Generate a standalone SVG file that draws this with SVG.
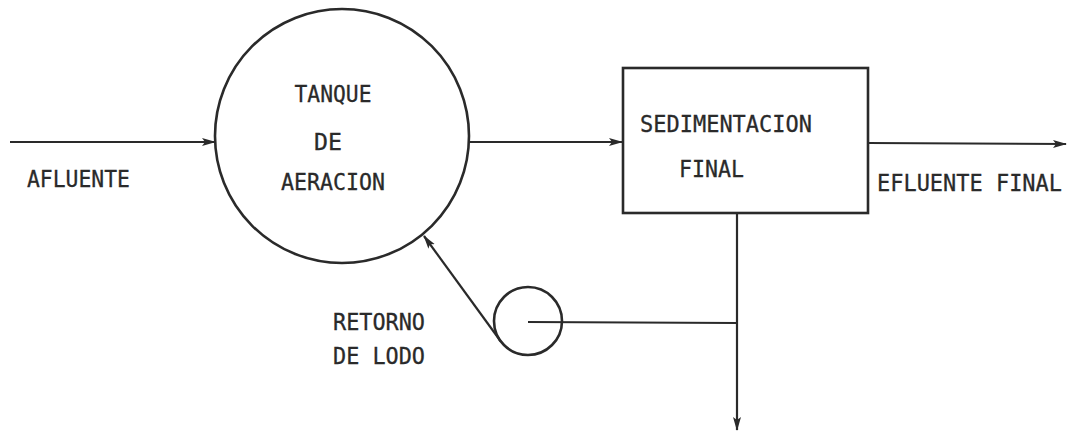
<svg xmlns="http://www.w3.org/2000/svg" width="1070" height="437" viewBox="0 0 1070 437">
<defs>
<style>
.ln{stroke:#2a2a2a;stroke-width:2.2;fill:none}
.sh{stroke:#2a2a2a;stroke-width:2.6;fill:none}
.tx{font-family:"DejaVu Sans Mono","Liberation Mono",monospace;font-size:23px;fill:#2a2a2a;stroke:#2a2a2a;stroke-width:0.3}
</style>
<marker id="ah" viewBox="0 0 14 10" refX="13" refY="5" markerWidth="14" markerHeight="10" markerUnits="userSpaceOnUse" orient="auto">
<path d="M0,1 L14,5 L0,9 L3,5 Z" fill="#2a2a2a"/>
</marker>
</defs>
<rect width="1070" height="437" fill="#fff"/>
<g id="tanque">
<circle class="sh" cx="342" cy="136" r="127"/>
<text class="tx" x="333" y="102" text-anchor="middle" textLength="77" lengthAdjust="spacingAndGlyphs">TANQUE</text>
<text class="tx" x="328" y="150" text-anchor="middle" textLength="28" lengthAdjust="spacingAndGlyphs">DE</text>
<text class="tx" x="333" y="190" text-anchor="middle" textLength="104" lengthAdjust="spacingAndGlyphs">AERACION</text>
</g>
<g id="sedimentacion">
<rect class="sh" x="623" y="68" width="245" height="145"/>
<text class="tx" x="640" y="132" textLength="172" lengthAdjust="spacingAndGlyphs">SEDIMENTACION</text>
<text class="tx" x="679" y="177" textLength="65" lengthAdjust="spacingAndGlyphs">FINAL</text>
</g>
<g id="bomba">
<circle class="sh" cx="528" cy="321" r="34"/>
</g>
<g id="labels">
<text class="tx" x="27" y="187" textLength="103" lengthAdjust="spacingAndGlyphs">AFLUENTE</text>
<text class="tx" x="877" y="191" textLength="185" lengthAdjust="spacingAndGlyphs">EFLUENTE FINAL</text>
<text class="tx" x="333" y="330" textLength="92" lengthAdjust="spacingAndGlyphs">RETORNO</text>
<text class="tx" x="333" y="364" textLength="92" lengthAdjust="spacingAndGlyphs">DE LODO</text>
</g>
<g id="connectors">
<line class="ln" x1="10" y1="142" x2="215" y2="142" marker-end="url(#ah)"/>
<line class="ln" x1="469" y1="142" x2="622" y2="142" marker-end="url(#ah)"/>
<line class="ln" x1="868" y1="143" x2="1066" y2="144" marker-end="url(#ah)"/>
<line class="ln" x1="737" y1="213" x2="737" y2="430" marker-end="url(#ah)"/>
<line class="ln" x1="528" y1="322" x2="737" y2="323"/>
<line class="ln" x1="500.5" y1="341" x2="424" y2="236" marker-end="url(#ah)"/>
</g>
</svg>
